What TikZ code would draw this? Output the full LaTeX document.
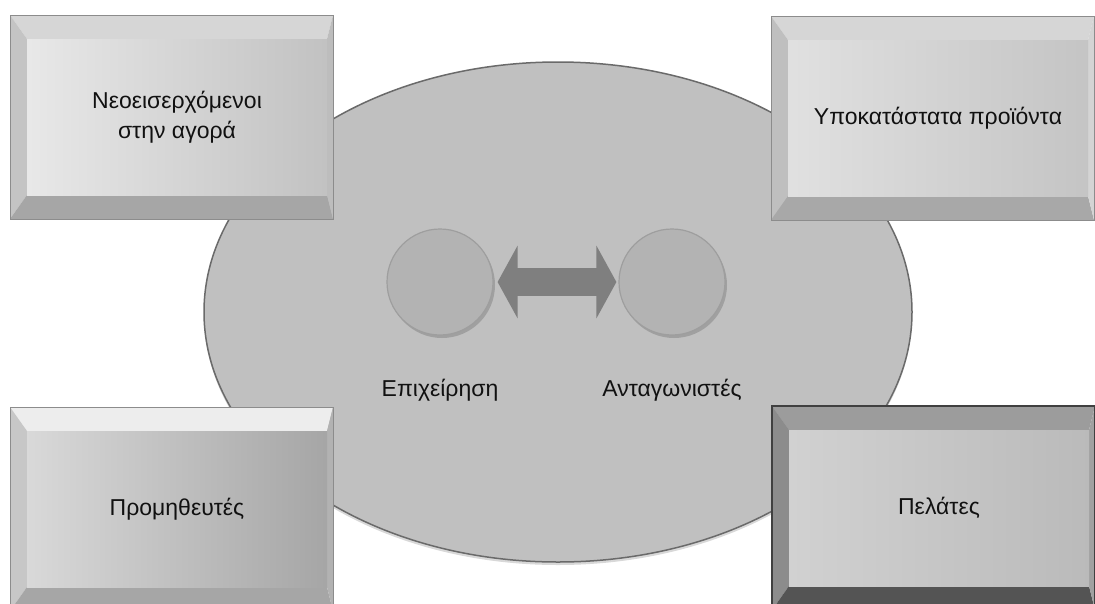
\documentclass[tikz,border=0pt]{standalone}
\usepackage{fontspec}
\setmainfont{Liberation Sans}
\usepackage{xcolor}
\definecolor{m_oval}{HTML}{C0C0C0}
\definecolor{m_ovalline}{HTML}{6A6A6A}
\definecolor{m_disc}{HTML}{B3B3B3}
\definecolor{m_discline}{HTML}{9E9E9E}
\definecolor{m_arrow}{HTML}{7F7F7F}
\definecolor{m_text}{HTML}{111111}
\usepackage{tikz}
\usetikzlibrary{positioning,calc,shapes.geometric,arrows.meta,shadows}

% bevelled box: name, outer top-left, outer bottom-right,
% top / left / bottom / right bevel colours, face colours (left, right)
\newcommand{\bevelbox}[9]{%
    \coordinate (#1-a) at #2;
    \coordinate (#1-b) at #3;
    \coordinate (#1-c) at ($#2+(17,24)$);
    \coordinate (#1-d) at ($#3+(-6,-24)$);
    \fill[#4] (#1-a) -- (#1-b |- #1-a) -- (#1-d |- #1-c) -- (#1-c) -- cycle;
    \fill[#5] (#1-a) -- (#1-c) -- (#1-c |- #1-d) -- (#1-a |- #1-b) -- cycle;
    \fill[#6] (#1-a |- #1-b) -- (#1-c |- #1-d) -- (#1-d) -- (#1-b) -- cycle;
    \fill[#7] (#1-b |- #1-a) -- (#1-b) -- (#1-d) -- (#1-d |- #1-c) -- cycle;
    \shade[left color=#8, right color=#9] (#1-c) rectangle (#1-d);
    \draw[boxline] (#1-a) rectangle (#1-b);
    \coordinate (#1-m) at ($(#1-c)!0.5!(#1-d)$);
}

\begin{document}
\begin{tikzpicture}[
        x=1pt, y=-1pt,
        boxline/.style={draw=black!45, line width=1pt},
        lbl/.style={text=m_text, inner sep=0pt, align=center,
            font=\fontsize{23}{30}\selectfont},
        market/.style={ellipse, fill=m_oval, draw=m_ovalline, line width=1.5pt,
            minimum width=708pt, minimum height=500pt,
            drop shadow={shadow xshift=0pt, shadow yshift=-3pt, fill=black!30, opacity=.5}},
        disc/.style={circle, fill=m_disc, draw=m_discline, line width=1.2pt,
            minimum size=106pt, inner sep=0pt,
            drop shadow={shadow xshift=2pt, shadow yshift=-3pt, fill=black!45, opacity=.6}},
        twoway/.style={draw=m_arrow, line width=28pt,
            {Triangle[length=20pt, width=72pt]}-{Triangle[length=20pt, width=72pt]},
            shorten <=4pt, shorten >=2pt}
    ]
    \useasboundingbox (0,0) rectangle (1095,603);
    \fill[white] (0,0) rectangle (1095,603);
    \clip (0,0) rectangle (1095,603);

    \node[market] (mkt) at (558,312) {};

    % the four forces
    \bevelbox{tl}{(10,15)}{(333,219)}{black!16}{black!23}{black!35}{black!26}{black!9}{black!24}
    \bevelbox{tr}{(771,16)}{(1094,220)}{black!16}{black!25}{black!34}{black!17}{black!12}{black!23}
    \bevelbox{bl}{(10,407)}{(333,611)}{black!7}{black!22}{black!35}{black!30}{black!15}{black!35}
    \bevelbox{br}{(772,406)}{(1095,610)}{black!39}{black!45}{black!67}{black!37}{black!18}{black!27}
    \draw[black!75, line width=1.2pt] (br-a) rectangle (br-b);

    \node[lbl] (entrants) at (tl-m) {Νεοεισερχόμενοι\\στην αγορά};
    \node[lbl] (subst) at (tr-m) {Υποκατάστατα προϊόντα};
    \node[lbl] (suppl) at (bl-m) {Προμηθευτές};
    \node[lbl] (buyers) at (br-m) {Πελάτες};

    % rivalry
    \node[disc] (firm) at (440,282) {};
    \node[disc] (rival) at (672,282) {};
    \draw[twoway] (firm) -- (rival);
    \node[lbl, below=43pt of firm] (firmlbl) {Επιχείρηση};
    \node[lbl, below=43pt of rival] (rivallbl) {Ανταγωνιστές};
\end{tikzpicture}
\end{document}
